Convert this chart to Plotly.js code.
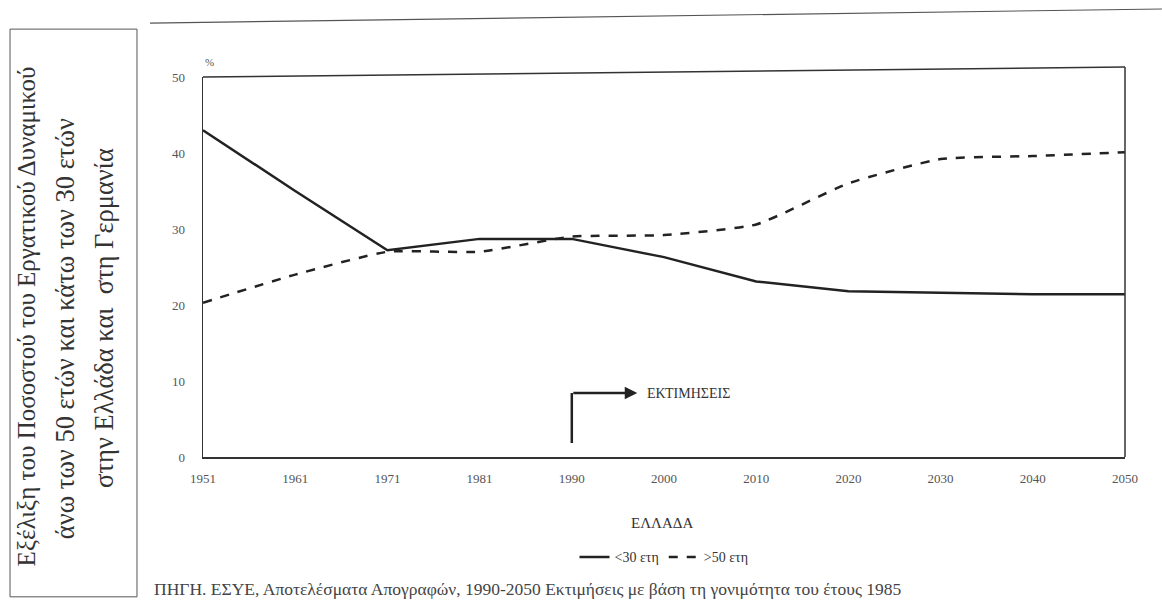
<!DOCTYPE html>
<html><head><meta charset="utf-8">
<script src="https://cdn.plot.ly/plotly-3.0.1.min.js"></script>
<style>html,body{margin:0;padding:0;background:#fff;}#chart{width:1162px;height:602px;}</style>
</head><body><div id="chart"></div>
<script>
const years = ["1951","1961","1971","1981","1990","2000","2010","2020","2030","2040","2050"];
const under30 = [43, 35, 27.2, 28.7, 28.7, 26.3, 23.1, 21.8, 21.6, 21.4, 21.4];
const over50 = [20.3, 24.0, 27.0, 27.0, 29.0, 29.2, 30.6, 36.0, 39.2, 39.6, 40.1];
const yTicks = [0, 10, 20, 30, 40, 50];
const titleLines = ["Εξέλιξη του Ποσοστού του Εργατικού Δυναμικού",
                    "άνω των 50 ετών και κάτω των 30 ετών",
                    "στην Ελλάδα και  στη Γερμανία"];
const idx = years.map((_, i) => i);
const F = '"Liberation Serif", "Times New Roman", serif';

const traces = [
  {x: idx, y: under30, mode: "lines", name: "&lt;30 ετη", line: {color: "#222", width: 2.5, dash: "solid"}},
  {x: idx, y: over50, mode: "lines", name: "&gt;50 ετη", line: {color: "#222", width: 2.5, dash: "dash", shape: "spline", smoothing: 0.5}}
];

const titleX = [-0.192, -0.1497, -0.1074];
const titleY = [0.37, 0.339, 0.366];
const titleSize = [25, 26.5, 26.5];

const layout = {
  width: 1162, height: 602,
  margin: {l: 203, r: 37, t: 77, b: 145},
  paper_bgcolor: "#fff", plot_bgcolor: "#fff",
  font: {family: F, color: "#333", size: 12},
  showlegend: true,
  legend: {orientation: "h", x: 0.5, xanchor: "center", y: -0.222, yanchor: "top",
           font: {family: F, size: 14, color: "#333"}, itemwidth: 30, tracegroupgap: 0},
  xaxis: {range: [0, 10], tickmode: "array", tickvals: idx, ticktext: years,
          showgrid: false, zeroline: false, showline: true, linecolor: "#333", linewidth: 1.5,
          mirror: false, ticks: "", ticklabelstandoff: 9, tickfont: {family: F, size: 13, color: "#555"}},
  yaxis: {range: [0, 50], tickmode: "array", tickvals: yTicks, ticktext: yTicks.map(String),
          showgrid: false, zeroline: false, showline: true, linecolor: "#333", linewidth: 1.5,
          mirror: false, ticks: "", ticklabelstandoff: 14, tickfont: {family: F, size: 13, color: "#555"}},
  shapes: [
    {type: "line", xref: "paper", yref: "paper", x0: 0, x1: 1, y0: 1, y1: 1.026, line: {color: "#333", width: 1.5}},
    {type: "line", xref: "paper", yref: "paper", x0: 1, x1: 1, y0: 0, y1: 1.026, line: {color: "#333", width: 1.5}},
    {type: "line", xref: "x", yref: "y", x0: 4, x1: 4, y0: 1.84, y1: 8.42, line: {color: "#222", width: 2.5}},
    {type: "rect", xref: "paper", yref: "paper", x0: -0.2093, x1: -0.0716, y0: -0.368, y1: 1.126, line: {color: "#555", width: 1}},
    {type: "line", xref: "paper", yref: "paper", x0: -0.0575, x1: 1.04, y0: 1.142, y1: 1.179, line: {color: "#555", width: 1.2}}
  ],
  annotations: [
    {xref: "x", yref: "y", x: 4.71, y: 8.42, ax: 4, ay: 8.42, axref: "x", ayref: "y", text: "", showarrow: true,
     arrowhead: 2, arrowsize: 1, arrowwidth: 2.5, arrowcolor: "#222"},
    {xref: "x", yref: "y", x: 4.79, y: 8.42, text: "ΕΚΤΙΜΗΣΕΙΣ", showarrow: false, xanchor: "left",
     font: {family: F, size: 14, color: "#333"}},
    {xref: "paper", yref: "paper", x: 0.0, y: 1.06, text: "%", showarrow: false, xanchor: "left",
     font: {family: F, size: 11, color: "#555"}},
    {xref: "paper", yref: "paper", x: 0.498, y: -0.174, yanchor: "middle", text: "ΕΛΛΑΔΑ", showarrow: false,
     font: {family: F, size: 15, color: "#333"}},
    {xref: "paper", yref: "paper", x: -0.0553, y: -0.347, yanchor: "middle", xanchor: "left",
     text: "ΠΗΓΗ. ΕΣΥΕ, Αποτελέσματα Απογραφών, 1990-2050 Εκτιμήσεις με βάση τη γονιμότητα του έτους 1985",
     showarrow: false, font: {family: F, size: 17.5, color: "#444"}}
  ].concat(titleLines.map((t, i) => ({
     xref: "paper", yref: "paper", x: titleX[i], y: titleY[i], xanchor: "center", yanchor: "middle",
     textangle: -90, showarrow: false,
     text: t, font: {family: F, size: titleSize[i], color: "#333"}})))
};

Plotly.newPlot("chart", traces, layout, {displayModeBar: false, staticPlot: true});
</script></body></html>
